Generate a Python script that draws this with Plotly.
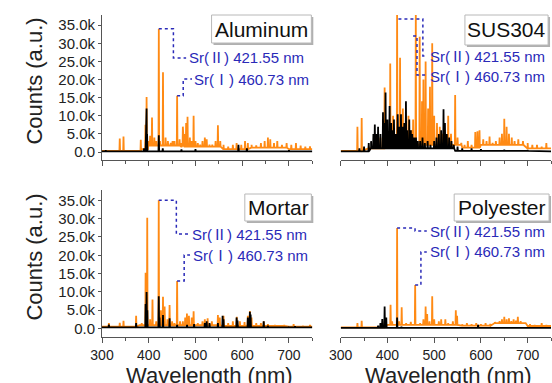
import plotly.graph_objects as go

# ---------------- data (wavelength in nm, counts in thousands) ----------------
samples = ["Aluminum", "SUS304", "Mortar", "Polyester"]
x_ticks = [300, 400, 500, 600, 700]
y_ticks = [0, 5000, 10000, 15000, 20000, 25000, 30000, 35000]
y_ticktext = ["0.0", "5.0k", "10.0k", "15.0k", "20.0k", "25.0k", "30.0k", "35.0k"]

# Aluminum
al_or_wl = [338, 346, 383, 393, 395.4, 399, 403, 407, 412, 416, 421.55, 424, 430.5, 436, 441, 447, 451, 455,
            460.73, 466, 470, 473, 476, 480, 483, 488, 492, 496, 500, 505, 510, 515, 520, 524, 530, 536, 543,
            548, 553, 560, 570, 580, 588, 598, 606, 612, 620, 630, 640, 648, 655, 660, 668, 675, 685, 695,
            705, 715, 725, 735, 745]
al_or_h = [3.7, 4.3, 3.4, 7.5, 15.2, 3.0, 4.5, 9.5, 4.0, 3.0, 34.0, 3.0, 22.0, 4.0, 3.0, 2.5, 3.0, 3.0,
           15.5, 3.5, 2.5, 7.0, 5.0, 8.0, 9.7, 4.0, 3.0, 10.0, 3.0, 2.5, 2.0, 3.0, 4.0, 3.5, 2.0, 2.0, 3.0,
           7.4, 3.0, 2.0, 1.5, 2.0, 2.5, 2.0, 3.0, 2.5, 2.0, 1.8, 2.5, 3.0, 4.0, 3.5, 2.5, 3.0, 2.0, 2.5,
           2.0, 2.5, 1.8, 1.5, 1.6]
al_or_base_wl = [300, 385, 400, 470, 560, 620, 700, 750]
al_or_base = [0.3, 0.8, 1.8, 1.5, 0.8, 1.2, 0.8, 0.8]
al_bk_wl = [308, 390, 394, 395.4, 396.5, 421.55, 430, 470, 500, 592, 610, 700]
al_bk_h = [0.5, 1.0, 8.3, 12.0, 5.0, 4.6, 1.0, 0.7, 0.8, 2.0, 1.0, 0.5]
al_bk_base_wl = [300, 750]
al_bk_base = [0.2, 0.2]

# SUS304
sus_or_wl = [335.8, 344.9, 360, 372, 385, 394, 406, 412, 420.7, 427, 433, 438, 445, 451, 455, 460.7, 469,
             474, 477, 481.7, 487, 491, 495.8, 500, 506, 512, 518, 523, 530, 536, 544.9, 550, 558, 565, 572,
             580, 588, 592.6, 597, 605, 612, 618.5, 625, 632, 640, 645, 650, 655, 660, 666, 672, 680, 690,
             700, 710, 720, 730, 740]
sus_or_h = [7.0, 9.4, 1.5, 3.0, 4.0, 17.8, 24.4, 10.0, 39.0, 26.0, 12.0, 8.0, 10.0, 6.0, 9.0, 39.0, 31.8,
            14.0, 20.0, 25.0, 12.0, 18.0, 30.0, 10.0, 8.0, 7.0, 5.0, 6.0, 10.0, 5.0, 15.7, 4.0, 2.5, 2.0, 3.0,
            2.0, 5.5, 5.7, 6.0, 3.5, 3.0, 4.3, 2.5, 3.0, 4.0, 5.0, 9.2, 7.0, 5.0, 4.0, 3.0, 3.5, 3.0,
            2.5, 2.0, 2.0, 1.5, 2.5]
sus_or_base_wl = [300, 360, 400, 560, 600, 700, 750]
sus_or_base = [0.3, 1.0, 2.0, 1.2, 2.0, 1.0, 1.0]
sus_bk_wl = [340, 350, 360, 365, 370, 373, 376, 380, 385, 390.5, 393, 396, 400, 404.6, 408, 411, 414, 418,
             422, 425, 429, 432, 436, 439.6, 442, 446.7, 450, 453, 457, 461, 465, 470, 475, 480, 486, 492,
             500, 505, 510, 515, 520, 523, 527, 532, 537, 542, 550, 560, 580, 600, 650, 700]
sus_bk_h = [1.0, 1.5, 2.5, 3.0, 5.0, 7.6, 5.0, 7.0, 5.0, 11.0, 8.0, 16.4, 9.0, 12.7, 8.0, 6.0, 9.0, 5.0,
            10.4, 7.0, 10.4, 7.0, 8.0, 14.0, 6.0, 9.0, 6.0, 5.0, 4.0, 4.0, 3.0, 3.0, 4.0, 2.5, 3.0, 2.0,
            3.0, 4.0, 5.0, 6.0, 11.8, 8.0, 5.0, 4.0, 3.0, 2.0, 1.5, 1.0, 1.0, 0.8, 0.6, 0.5]
sus_bk_base_wl = [300, 365, 545, 750]
sus_bk_base = [0.2, 1.0, 0.3, 0.2]

# Mortar
mo_or_wl = [314.7, 338, 346, 373, 385, 393.3, 396.8, 403, 408, 416, 421.4, 426, 430.5, 434, 440, 444.6, 450,
            455, 460.7, 467, 473, 478, 481.7, 486, 492, 496, 505, 515, 520, 526, 535, 548, 552, 560, 570,
            580, 588.4, 595, 605, 612, 616.4, 620, 630, 640, 646, 655, 670, 690, 710, 730, 745]
mo_or_h = [1.5, 1.6, 2.1, 3.5, 1.5, 15.2, 30.2, 2.5, 7.9, 2.0, 35.0, 5.0, 8.7, 6.0, 2.5, 6.4, 2.0,
           1.5, 13.0, 2.0, 2.0, 3.0, 4.1, 3.5, 3.0, 4.7, 1.5, 2.0, 2.5, 2.8, 2.0, 3.7, 3.0, 3.5, 1.5,
           2.0, 3.2, 2.0, 1.8, 3.5, 4.8, 3.0, 1.5, 1.5, 2.0, 1.2, 1.0, 1.0, 1.2, 0.8, 1.0]
mo_or_base_wl = [300, 380, 560, 700, 750]
mo_or_base = [0.5, 0.9, 0.7, 0.5, 0.5]
mo_bk_wl = [314.7, 373, 393.3, 395.4, 397, 421.4, 423, 430.5, 444.6, 460.7, 482, 497, 520, 524, 530, 548,
            558, 560, 588, 590, 612, 616.4, 618, 646, 655, 700, 713]
mo_bk_h = [1.1, 1.5, 6.7, 10.0, 5.0, 8.8, 3.0, 3.7, 2.8, 1.0, 1.0, 1.2, 1.5, 2.0, 1.5, 1.5,
           3.5, 2.5, 3.0, 2.2, 3.0, 4.6, 3.8, 2.0, 0.8, 0.5, 0.6]
mo_bk_base_wl = [300, 750]
mo_bk_base = [0.3, 0.3]

# Polyester
po_or_wl = [335.8, 344.9, 394, 406.7, 410, 420.7, 425, 430.5, 440, 450, 459.3, 470, 477, 481.7, 485, 490,
            495.8, 500, 510, 515, 523.9, 530, 540, 546.3, 549, 560, 570, 580, 590, 600, 610, 620, 630, 640,
            645, 650, 655, 660, 665, 670, 675, 679, 685, 695, 705, 715, 730, 740]
po_or_h = [1.5, 2.1, 2.0, 6.5, 2.0, 27.4, 2.0, 5.8, 1.5, 1.8, 11.9, 1.5, 2.5, 6.0, 4.0, 2.0,
           8.8, 2.5, 2.0, 2.5, 2.5, 1.5, 2.0, 5.0, 3.5, 1.2, 1.5, 1.2, 1.5, 1.2, 1.5, 1.3, 1.8, 2.0,
           2.5, 3.2, 2.5, 2.8, 2.0, 2.5, 2.2, 3.2, 2.0, 1.5, 1.2, 1.0, 1.5, 1.0]
po_or_base_wl = [300, 400, 560, 630, 700, 750]
po_or_base = [0.3, 1.0, 0.8, 1.5, 0.7, 0.7]
po_bk_wl = [380, 385, 389, 394, 397.5, 420.7, 430, 594]
po_bk_h = [0.8, 1.5, 2.6, 6.0, 3.0, 3.0, 0.5, 1.0]
po_bk_base_wl = [300, 750]
po_bk_base = [0.2, 0.2]

sr_labels = ["Sr(Ⅱ) 421.55 nm", "Sr(Ⅰ) 460.73 nm"]

# ---------------- layout geometry ----------------
W, H = 552, 383
FONT = "Arial, 'Liberation Sans', 'Noto Sans CJK JP', sans-serif"
ORANGE = "#ff8a14"
BLUE = "#2a2ab8"

panels = [
    dict(name="Aluminum", x0=92, x1=307, yt=15, yb=160, yr=[-2200, 37800], ax="", labels=False, left=True,
         box=(204, 15, 306, 43),
         data=(al_or_wl, al_or_h, al_or_base_wl, al_or_base, al_bk_wl, al_bk_h, al_bk_base_wl, al_bk_base),
         lead2=[("d", 421.55, 34.0), ("p", 165, None), ("p", 165, 58), ("p", 178, 58)],
         lead1=[("d", 460.73, 15.5), ("p", 175, None), ("p", 175, 79), ("p", 184, 79)],
         txt2=(179, 58), txt1=(184, 79)),
    dict(name="SUS304", x0=336, x1=551, yt=15, yb=160, yr=[-2200, 37800], ax="2", labels=False, left=False,
         box=(463, 15, 548, 45),
         data=(sus_or_wl, sus_or_h, sus_or_base_wl, sus_or_base, sus_bk_wl, sus_bk_h, sus_bk_base_wl, sus_bk_base),
         lead2=[("p", 395, 19), ("p", 420, 19), ("p", 420, 56), ("p", 424, 56)],
         lead1=[("p", 410, 36), ("p", 414, 36), ("p", 414, 75), ("p", 424, 75)],
         txt2=(425, 57), txt1=(425, 76)),
    dict(name="Mortar", x0=92, x1=307, yt=190, yb=337, yr=[-2300, 37800], ax="3", labels=True, left=True,
         box=(238, 194, 306, 221),
         data=(mo_or_wl, mo_or_h, mo_or_base_wl, mo_or_base, mo_bk_wl, mo_bk_h, mo_bk_base_wl, mo_bk_base),
         lead2=[("d", 421.4, 35.0), ("p", 168, None), ("p", 168, 234), ("p", 181, 234)],
         lead1=[("d", 460.7, 13.0), ("p", 176, None), ("p", 176, 255), ("p", 182, 255)],
         txt2=(182, 234), txt1=(183, 255)),
    dict(name="Polyester", x0=336, x1=551, yt=190, yb=337, yr=[-2300, 37800], ax="4", labels=True, left=False,
         box=(452, 194, 549, 221),
         data=(po_or_wl, po_or_h, po_or_base_wl, po_or_base, po_bk_wl, po_bk_h, po_bk_base_wl, po_bk_base),
         lead2=[("d", 420.7, 27.4), ("p", 412, None), ("p", 412, 231), ("p", 424, 231)],
         lead1=[("d", 459.3, 11.9), ("p", 418, None), ("p", 418, 252), ("p", 424, 252)],
         txt2=(425, 231), txt1=(425, 252)),
]


def build(wls, hs, bwl, blv):
    pts = [(w, l * 1000) for w, l in zip(bwl, blv)]
    for w, h in zip(wls, hs):
        lvl = blv[0]
        for kw, kl in zip(bwl, blv):
            if kw <= w:
                lvl = kl
        pts += [(w - 0.7, lvl * 1000), (w, h * 1000), (w + 0.7, lvl * 1000)]
    pts.sort(key=lambda p: p[0])
    return [p[0] for p in pts], [p[1] for p in pts]


def px2x(p, px):
    return 300 + (px - p["x0"]) / (p["x1"] - p["x0"]) * 450


def py2y(p, py):
    r = p["yr"]
    return r[0] + (p["yb"] - py) / (p["yb"] - p["yt"]) * (r[1] - r[0])


def paper_x(px):
    return px / W


def paper_y(py):
    return 1 - py / H


fig = go.Figure()
shapes = []
annotations = []

for p in panels:
    xa, ya = "x" + p["ax"], "y" + p["ax"]
    owl, oh, obw, obl, kwl, kh, kbw, kbl = p["data"]
    ox, oy = build(owl, oh, obw, obl)
    bx, by = build(kwl, kh, kbw, kbl)
    fig.add_trace(go.Scatter(x=ox, y=oy, mode="lines", line=dict(color=ORANGE, width=1.8),
                             xaxis=xa, yaxis=ya, showlegend=False, hoverinfo="skip"))
    fig.add_trace(go.Scatter(x=bx, y=by, mode="lines", line=dict(color="black", width=1.8),
                             xaxis=xa, yaxis=ya, showlegend=False, hoverinfo="skip"))

    xkey = "xaxis" + p["ax"]
    ykey = "yaxis" + p["ax"]
    fig.layout[xkey] = dict(
        domain=[p["x0"] / W, p["x1"] / W], anchor=ya, range=[300, 750],
        showline=True, linecolor="#555", linewidth=1, ticks="outside", ticklen=5, tickcolor="#555",
        tickvals=x_ticks, showticklabels=p["labels"], showgrid=False, zeroline=False,
        tickfont=dict(family=FONT, size=14, color="#222"),
        minor=dict(tickvals=[350, 450, 550, 650, 750], ticks="outside", ticklen=3, tickcolor="#555"),
    )
    fig.layout[ykey] = dict(
        domain=[1 - p["yb"] / H, 1 - p["yt"] / H], anchor=xa, range=p["yr"],
        showline=p["left"], linecolor="#555", linewidth=1,
        ticks="outside" if p["left"] else "", ticklen=3, tickcolor="#555",
        tickvals=y_ticks, ticktext=y_ticktext, showticklabels=p["left"],
        showgrid=False, zeroline=False, tickfont=dict(family=FONT, size=15, color="#222"),
    )

    # leader lines (dotted)
    for lead in (p["lead2"], p["lead1"]):
        xs, ys = [], []
        for kind, a, b in lead:
            if kind == "d":
                xs.append(a)
                ys.append(b * 1000)
            else:
                xs.append(px2x(p, a))
                ys.append(ys[-1] if b is None else py2y(p, b))
        path = "M " + " L ".join(f"{x},{y}" for x, y in zip(xs, ys))
        shapes.append(dict(type="path", path=path, xref=xa, yref=ya,
                           line=dict(color=BLUE, width=1.5, dash="dot"), layer="above"))

    for (tx, ty), lab in ((p["txt2"], sr_labels[0]), (p["txt1"], sr_labels[1])):
        annotations.append(dict(x=paper_x(tx), y=paper_y(ty), xref="paper", yref="paper",
                                xanchor="left", yanchor="middle", showarrow=False, text=lab,
                                font=dict(family=FONT, size=15, color=BLUE)))

    # sample-name box with shadow
    bx0, by0, bx1, by1 = p["box"]
    shapes.append(dict(type="rect", xref="paper", yref="paper",
                       x0=paper_x(bx0 + 2), x1=paper_x(bx1 + 2), y0=paper_y(by1 + 2), y1=paper_y(by0 + 2),
                       fillcolor="#b0b0b0", line=dict(width=0), layer="above"))
    shapes.append(dict(type="rect", xref="paper", yref="paper",
                       x0=paper_x(bx0), x1=paper_x(bx1), y0=paper_y(by1), y1=paper_y(by0),
                       fillcolor="white", line=dict(color="#b8b8b8", width=1), layer="above"))
    annotations.append(dict(x=paper_x((bx0 + bx1) / 2), y=paper_y((by0 + by1) / 2), xref="paper", yref="paper",
                            xanchor="center", yanchor="middle", showarrow=False, text=p["name"],
                            font=dict(family=FONT, size=21, color="#111")))

# axis titles
for cy in (81, 257):
    annotations.append(dict(x=paper_x(22), y=paper_y(cy), xref="paper", yref="paper", textangle=-90,
                            xanchor="center", yanchor="middle", showarrow=False, text="Counts (a.u.)",
                            font=dict(family=FONT, size=22, color="#222")))
for cx in (202, 446):
    annotations.append(dict(x=paper_x(cx), y=paper_y(375), xref="paper", yref="paper",
                            xanchor="center", yanchor="middle", showarrow=False, text="Wavelength (nm)",
                            font=dict(family=FONT, size=22, color="#222")))

fig.update_layout(width=W, height=H, margin=dict(l=0, r=0, t=0, b=0),
                  paper_bgcolor="white", plot_bgcolor="white",
                  shapes=shapes, annotations=annotations, font=dict(family=FONT))

fig.write_html("out.html", config={"displayModeBar": False},
               post_script="document.body.style.margin='0px';document.body.style.overflow='hidden';")
